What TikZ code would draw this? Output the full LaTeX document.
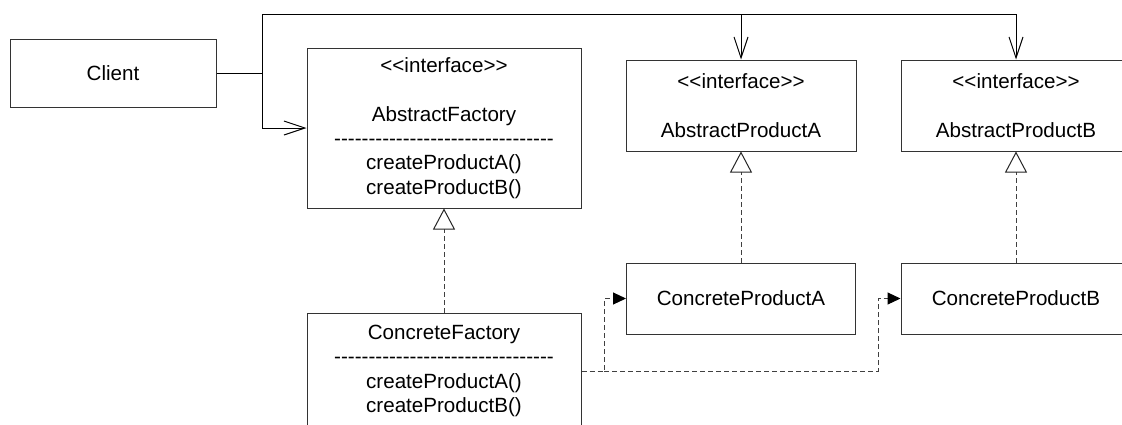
\documentclass[tikz,border=0pt]{standalone}
\usepackage{fontspec}
\setmainfont{Liberation Sans}[Ligatures=TeXOff]
\usetikzlibrary{arrows.meta}
\tikzset{
  umlbox/.style={draw=black!80, line width=1pt, align=center, inner sep=0pt},
  assoc/.style={line width=1pt, -{Straight Barb[length=21pt,width=14pt]}},
  realize/.style={draw=black!75, line width=1pt, dash pattern=on 5pt off 3pt,
    -{Triangle[open,length=21pt,width=22pt,fill=white,color=black!85]}},
  depend/.style={draw=black!75, line width=1pt, dash pattern=on 5pt off 3pt,
    -{Triangle[length=13pt,width=12pt,color=black]}},
}
\newcommand{\sepline}{--------------------------------}
\begin{document}
\begin{tikzpicture}[x=1pt,y=-1pt]
  \fontsize{20.6}{24.4}\selectfont
  \useasboundingbox (0,0) rectangle (1122,424);
  \fill[white] (0,0) rectangle (1122,424);
  \clip (0,0) rectangle (1122,424);

  \node[umlbox, minimum width=206pt, minimum height=68pt] (client) at (113,73) {Client};
  \node[umlbox, minimum width=274pt, minimum height=160pt] (af) at (444,128)
    {<<interface>>\\[24.4pt]AbstractFactory\\\sepline\\createProductA()\\createProductB()};
  \node[umlbox, minimum width=274pt, minimum height=116pt] (cf) at (444,371)
    {ConcreteFactory\\\sepline\\createProductA()\\createProductB()};
  \node[umlbox, minimum width=230pt, minimum height=91pt] (apa) at (741,105.5)
    {<<interface>>\\[24.4pt]AbstractProductA};
  \node[umlbox, minimum width=230pt, minimum height=91pt] (apb) at (1016,105.5)
    {<<interface>>\\[24.4pt]AbstractProductB};
  \node[umlbox, minimum width=229pt, minimum height=71pt] (cpa) at (741,298.5) {ConcreteProductA};
  \node[umlbox, minimum width=230pt, minimum height=71pt] (cpb) at (1016,298.5) {ConcreteProductB};

  \coordinate (jn) at (262,73);
  \coordinate (top) at (262,14);
  \coordinate (fork) at (604,371);
  \coordinate (forkb) at (878,371);

  \draw [line width=1pt] (client) -- (jn) -- (top);
  \draw [assoc] (jn) |- (af.west);
  \draw [assoc] (top) -| (apa.north);
  \draw [assoc] (top) -| (apb.north);

  \draw [realize] (cf.north) -- (af.south);
  \draw [realize] (cpa.north) -- (apa.south);
  \draw [realize] (cpb.north) -- (apb.south);

  \draw [depend] (cf.east) -- (fork) |- (cpa.west);
  \draw [depend] (fork) -- (forkb) |- (cpb.west);
\end{tikzpicture}
\end{document}
